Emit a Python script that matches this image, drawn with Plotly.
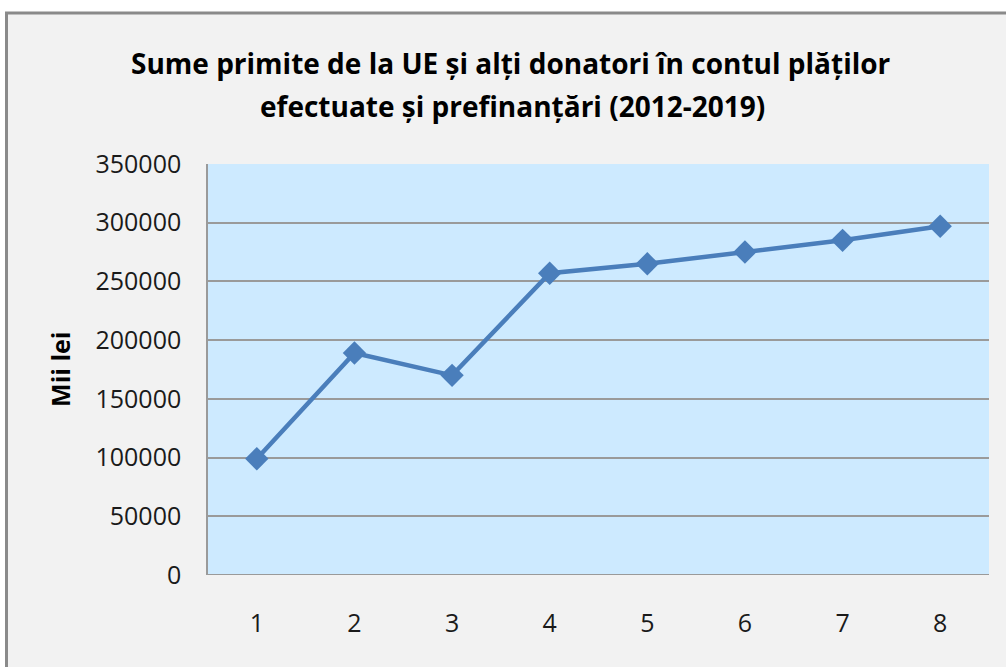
import plotly.graph_objects as go

categories = [1, 2, 3, 4, 5, 6, 7, 8]
values = [99000, 189000, 170000, 257000, 265000, 275000, 285000, 297000]
y_ticks = [0, 50000, 100000, 150000, 200000, 250000, 300000, 350000]

title_line1 = "Sume primite de la UE și alți donatori în contul plăților"
title_line2 = "efectuate și prefinanțări (2012-2019)"
y_title = "Mii lei"
font_family = "Open Sans, Noto Sans, sans-serif"

fig = go.Figure()
fig.add_trace(go.Scatter(
    x=categories, y=values, mode="lines+markers",
    line=dict(color="#4a7ebb", width=4.5),
    marker=dict(symbol="diamond", size=18, color="#4a7ebb"),
    showlegend=False,
))

fig.update_layout(
    width=1006, height=667,
    paper_bgcolor="#ffffff",
    plot_bgcolor="#cdeaff",
    margin=dict(l=208, r=17, t=164, b=92),
    font=dict(family=font_family, size=25, color="#1a1a1a"),
    xaxis=dict(
        range=[0.5, 8.5], tickmode="array", tickvals=categories,
        ticktext=[str(c) for c in categories],
        showgrid=False, zeroline=False, showline=False,
        ticks="", ticklabelstandoff=31,
        tickfont=dict(size=25),
    ),
    yaxis=dict(
        range=[0, 350000], tickmode="array", tickvals=y_ticks,
        ticktext=[str(t) for t in y_ticks],
        showgrid=True, gridcolor="#9a9a9a", gridwidth=1.5,
        zeroline=False, showline=True, linecolor="#9a9a9a", linewidth=1.5,
        ticks="", ticklabelstandoff=20,
        tickfont=dict(size=25),
    ),
    shapes=[
        dict(type="rect", xref="paper", yref="paper", x0=-0.258, x1=1.03, y0=-0.24, y1=1.3674,
             line=dict(color="#8a8a8a", width=3), fillcolor="#f2f2f2", layer="below"),
        dict(type="rect", xref="paper", yref="paper", x0=0, x1=1, y0=0, y1=1,
             line=dict(width=0), fillcolor="#cdeaff", layer="below"),
        dict(type="line", xref="paper", yref="y", x0=0, x1=1, y0=0, y1=0,
             line=dict(color="#9a9a9a", width=2)),
    ],
    annotations=[
        dict(text="<b>" + title_line1 + "</b>", xref="paper", yref="paper",
             x=0.388, y=1.246, xanchor="center", yanchor="middle", showarrow=False,
             font=dict(size=28, color="#000000")),
        dict(text="<b>" + title_line2 + "</b>", xref="paper", yref="paper",
             x=0.390, y=1.140, xanchor="center", yanchor="middle", showarrow=False,
             font=dict(size=28, color="#000000")),
        dict(text="<b>" + y_title + "</b>", xref="paper", yref="paper",
             x=-0.1895, y=0.499, xanchor="center", yanchor="middle", showarrow=False,
             textangle=-90, font=dict(size=25, color="#000000")),
    ],
)

fig.write_html("out.html", config={"displayModeBar": False},
               post_script="document.body.style.margin='0';")
